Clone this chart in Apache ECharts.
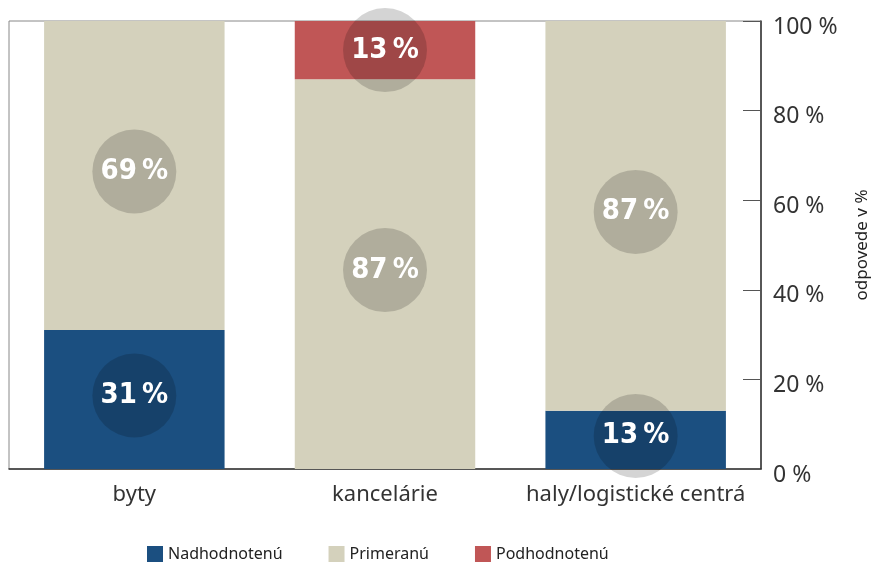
<!DOCTYPE html>
<html>
<head>
<meta charset="utf-8">
<script src="https://cdn.jsdelivr.net/npm/echarts@6/dist/echarts.min.js"></script>
<style>
  html, body { margin: 0; padding: 0; background: #fff; }
  #chart { width: 872px; height: 563px; }
</style>
</head>
<body>
<div id="chart"></div>
<script>
const categories = ["byty", "kancelárie", "haly/logistické centrá"];
const nadhodnotene = [31, "-", 13];
const primerane = [69, 87, 87];
const podhodnotene = ["-", 13, "-"];

const myChart = echarts.init(document.getElementById("chart"));

// kruh za hodnotou
const circleLabel = {
  show: true,
  position: "inside",
  offset: [0, -4],
  formatter: "{c}\u2009%",
  width: 84,
  height: 84,
  lineHeight: 84,
  borderRadius: 42,
  backgroundColor: "rgba(0,0,0,0.17)",
  align: "center",
  verticalAlign: "middle",
  color: "#fff",
  fontFamily: "'Liberation Sans Narrow', 'DejaVu Sans Condensed', sans-serif",
  fontWeight: "bold",
  fontSize: 29,
};

const option = {
  animation: false,
  grid: {
    left: 9,
    right: 111,
    top: 21,
    bottom: 94,
    outerBoundsMode: "none",
    containLabel: false,
    show: true,
    borderColor: "#888",
    borderWidth: 1,
  },
  legend: {
    top: 541,
    left: 142,
    itemWidth: 16,
    itemHeight: 16,
    itemGap: 46,
    icon: "rect",
    textStyle: { fontFamily: "Noto Sans", fontSize: 16, color: "#222" },
    data: ["Nadhodnotenú", "Primeranú", "Podhodnotenú"],
  },
  xAxis: {
    type: "category",
    data: categories,
    axisLine: { lineStyle: { color: "#333", width: 1.5 } },
    axisTick: { inside: true, length: 9, lineStyle: { color: "#333" } },
    axisLabel: {
      interval: 0,
      margin: 15,
      fontFamily: "Noto Sans",
      fontSize: 22,
      color: "#333",
    },
  },
  yAxis: {
    type: "value",
    position: "right",
    min: 0,
    max: 100,
    interval: 20,
    name: "odpovede v %",
    nameLocation: "middle",
    nameRotate: 90,
    nameGap: 93,
    nameTextStyle: { fontFamily: "Noto Sans", fontSize: 17, color: "#222" },
    axisLine: { show: true, lineStyle: { color: "#333", width: 1.5 } },
    axisTick: { show: true, inside: true, length: 18, lineStyle: { color: "#555" } },
    splitLine: { show: false },
    axisLabel: {
      margin: 12,
      formatter: (v) => "{t|" + v + " %}",
      rich: {
        t: {
          padding: [12, 0, 0, 0],
          fontFamily: "Noto Sans",
          fontSize: 23,
          color: "#333",
        },
      },
    },
  },
  series: [
    {
      name: "Nadhodnotenú",
      type: "bar",
      stack: "a",
      barWidth: "72%",
      data: nadhodnotene,
      itemStyle: { color: "#1b4f80" },
      label: circleLabel,
    },
    {
      name: "Primeranú",
      type: "bar",
      stack: "a",
      data: primerane,
      itemStyle: { color: "#d4d1bc" },
      label: circleLabel,
    },
    {
      name: "Podhodnotenú",
      type: "bar",
      stack: "a",
      data: podhodnotene,
      itemStyle: { color: "#c05656" },
      label: Object.assign({}, circleLabel, { offset: [0, 0] }),
    },
  ],
};

myChart.setOption(option);
</script>
</body>
</html>
